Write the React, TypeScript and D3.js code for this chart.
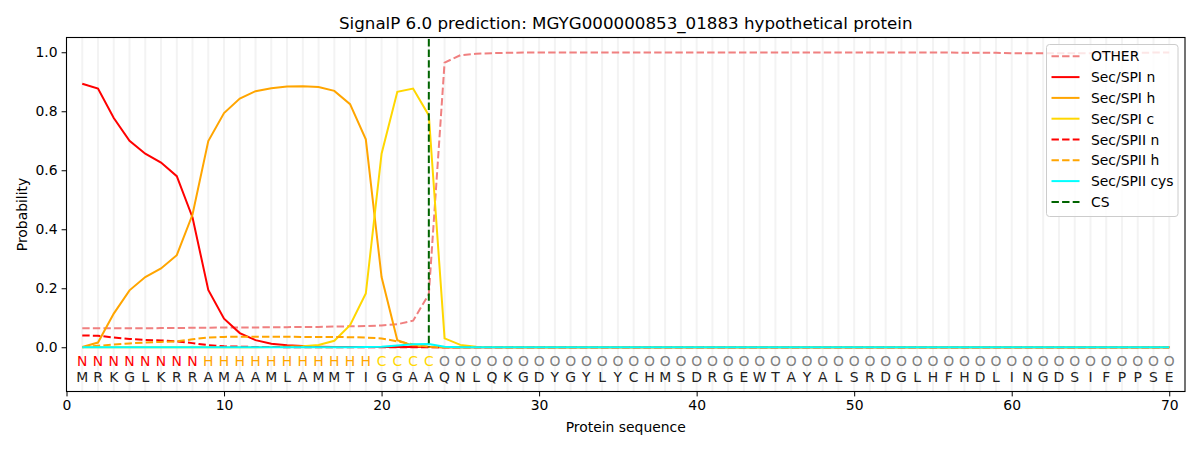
import React, { useEffect, useRef } from 'react';
import * as d3 from 'd3';

const sequence = 'MRKGLKRRAMAAMLAMMTIGGAAQNLQKGDYGYLYCHMSDRGEWTAYALSRDGLHFHDLINGDSIFPPSE'.split('');
const regionLabels = 'NNNNNNNNHHHHHHHHHHHCCCCOOOOOOOOOOOOOOOOOOOOOOOOOOOOOOOOOOOOOOOOOOOOOOO'.split('');

const other = [
  0.064, 0.064, 0.064, 0.064, 0.064, 0.065, 0.065, 0.066, 0.066, 0.067,
  0.067, 0.067, 0.068, 0.068, 0.069, 0.069, 0.070, 0.071, 0.072, 0.074,
  0.078, 0.090, 0.180, 0.965, 0.990, 0.995, 0.997, 0.998, 0.999, 0.999,
  0.999, 0.999, 0.999, 0.999, 0.999, 0.999, 0.999, 0.999, 0.999, 0.999,
  0.999, 0.999, 0.999, 0.999, 0.999, 0.999, 0.999, 0.999, 0.999, 0.999,
  0.999, 0.999, 0.999, 0.999, 0.999, 0.999, 0.998, 0.998, 0.998, 0.997,
  0.997, 0.997, 0.997, 0.997, 0.997, 0.998, 0.998, 0.998, 0.999, 0.999
];
const spiN = [
  0.893, 0.877, 0.777, 0.700, 0.656, 0.626, 0.580, 0.440, 0.194, 0.097,
  0.048, 0.024, 0.012, 0.007, 0.004, 0.002, 0.001, 0.001, 0.001, 0.001,
  0.001, 0.001, 0.001, 0, 0, 0, 0, 0, 0, 0,
  0, 0, 0, 0, 0, 0, 0, 0, 0, 0,
  0, 0, 0, 0, 0, 0, 0, 0, 0, 0,
  0, 0, 0, 0, 0, 0, 0, 0, 0, 0,
  0, 0, 0, 0, 0, 0, 0, 0, 0, 0
];
const spiH = [
  0.001, 0.016, 0.114, 0.193, 0.238, 0.267, 0.312, 0.450, 0.699, 0.794,
  0.843, 0.868, 0.878, 0.884, 0.885, 0.882, 0.869, 0.824, 0.705, 0.238,
  0.024, 0.005, 0.001, 0, 0, 0, 0, 0, 0, 0,
  0, 0, 0, 0, 0, 0, 0, 0, 0, 0,
  0, 0, 0, 0, 0, 0, 0, 0, 0, 0,
  0, 0, 0, 0, 0, 0, 0, 0, 0, 0,
  0, 0, 0, 0, 0, 0, 0, 0, 0, 0
];
const spiC = [
  0, 0, 0, 0, 0, 0, 0, 0, 0, 0,
  0, 0, 0.001, 0.002, 0.003, 0.008, 0.022, 0.075, 0.182, 0.656,
  0.866, 0.877, 0.786, 0.030, 0.008, 0.002, 0.001, 0, 0, 0,
  0, 0, 0, 0, 0, 0, 0, 0, 0, 0,
  0, 0, 0, 0, 0, 0, 0, 0, 0, 0,
  0, 0, 0, 0, 0, 0, 0, 0, 0, 0,
  0, 0, 0, 0, 0, 0, 0, 0, 0, 0
];
const spiiN = [
  0.040, 0.039, 0.033, 0.028, 0.025, 0.023, 0.020, 0.014, 0.007, 0.003,
  0.002, 0.001, 0.001, 0, 0, 0, 0, 0, 0, 0,
  0, 0, 0, 0, 0, 0, 0, 0, 0, 0,
  0, 0, 0, 0, 0, 0, 0, 0, 0, 0,
  0, 0, 0, 0, 0, 0, 0, 0, 0, 0,
  0, 0, 0, 0, 0, 0, 0, 0, 0, 0,
  0, 0, 0, 0, 0, 0, 0, 0, 0, 0
];
const spiiH = [
  0, 0.005, 0.009, 0.013, 0.016, 0.018, 0.020, 0.027, 0.033, 0.035,
  0.036, 0.036, 0.036, 0.036, 0.035, 0.035, 0.035, 0.034, 0.033, 0.030,
  0.020, 0.010, 0.002, 0, 0, 0, 0, 0, 0, 0,
  0, 0, 0, 0, 0, 0, 0, 0, 0, 0,
  0, 0, 0, 0, 0, 0, 0, 0, 0, 0,
  0, 0, 0, 0, 0, 0, 0, 0, 0, 0,
  0, 0, 0, 0, 0, 0, 0, 0, 0, 0
];
const spiiCys = [
  0, 0, 0, 0, 0, 0, 0, 0, 0, 0,
  0, 0, 0, 0, 0, 0, 0, 0, 0.001, 0.002,
  0.006, 0.010, 0.011, 0.002, 0, 0, 0, 0, 0, 0,
  0, 0, 0, 0, 0, 0, 0, 0, 0, 0,
  0, 0, 0, 0, 0, 0, 0, 0, 0, 0,
  0, 0, 0, 0, 0, 0, 0, 0, 0, 0,
  0, 0, 0, 0, 0, 0, 0, 0, 0, 0
];
const cleavageSite = 23;
const xTicks = [0, 10, 20, 30, 40, 50, 60, 70];
const yTicks = [0, 0.2, 0.4, 0.6, 0.8, 1.0];

const series = [
  { name: 'OTHER', values: other, color: '#f08080', dashed: true },
  { name: 'Sec/SPI n', values: spiN, color: '#ff0000', dashed: false },
  { name: 'Sec/SPI h', values: spiH, color: '#ffa500', dashed: false },
  { name: 'Sec/SPI c', values: spiC, color: '#ffd700', dashed: false },
  { name: 'Sec/SPII n', values: spiiN, color: '#ff0000', dashed: true },
  { name: 'Sec/SPII h', values: spiiH, color: '#ffa500', dashed: true },
  { name: 'Sec/SPII cys', values: spiiCys, color: '#00ffff', dashed: false }
];

const labelColors: Record<string, string> = {
  N: '#ff0000',
  H: '#ffa500',
  C: '#ffd700',
  O: '#808080'
};

const FONT = 'DejaVu Sans, sans-serif';

export default function App() {
  const svgRef = useRef<SVGSVGElement>(null);

  useEffect(() => {
    if (!svgRef.current) return;
    const width = 1200;
    const height = 450;
    const margin = { top: 37.5, right: 15, bottom: 58.5, left: 66.5 };
    const innerWidth = width - margin.left - margin.right;
    const innerHeight = height - margin.top - margin.bottom;

    const svg = d3.select(svgRef.current);
    svg.selectAll('*').remove();

    const x = d3.scaleLinear().domain([0, 71]).range([0, innerWidth]);
    const y = d3.scaleLinear().domain([-0.15, 1.05]).range([innerHeight, 0]);

    const g = svg.append('g').attr('transform', `translate(${margin.left},${margin.top})`);

    // residue grid
    g.selectAll('.vgrid')
      .data(sequence.map((_, i) => i + 1))
      .enter()
      .append('line')
      .attr('x1', d => x(d))
      .attr('x2', d => x(d))
      .attr('y1', 0)
      .attr('y2', innerHeight)
      .attr('stroke', '#f3f3f3')
      .attr('stroke-width', 2);

    // region labels and residues
    g.selectAll('.region')
      .data(regionLabels)
      .enter()
      .append('text')
      .attr('x', (_, i) => x(i + 1))
      .attr('y', y(-0.047))
      .attr('text-anchor', 'middle')
      .attr('dominant-baseline', 'central')
      .attr('font-family', FONT)
      .attr('font-size', 13.9)
      .attr('fill', d => labelColors[d])
      .text(d => d);

    g.selectAll('.aa')
      .data(sequence)
      .enter()
      .append('text')
      .attr('x', (_, i) => x(i + 1))
      .attr('y', y(-0.1))
      .attr('text-anchor', 'middle')
      .attr('dominant-baseline', 'central')
      .attr('font-family', FONT)
      .attr('font-size', 13.9)
      .attr('fill', '#222')
      .text(d => d);

    const line = d3.line<number>()
      .x((_, i) => x(i + 1))
      .y(d => y(d));

    series.forEach(s => {
      g.append('path')
        .datum(s.values)
        .attr('d', line)
        .attr('fill', 'none')
        .attr('stroke', s.color)
        .attr('stroke-width', 2)
        .attr('stroke-dasharray', s.dashed ? '7.4,3.2' : null);
    });

    // cleavage site
    g.append('line')
      .attr('x1', x(cleavageSite))
      .attr('x2', x(cleavageSite))
      .attr('y1', y(1.045))
      .attr('y2', y(0))
      .attr('stroke', '#006400')
      .attr('stroke-width', 2)
      .attr('stroke-dasharray', '7.4,3.2');

    // axes
    const xAxis = g.append('g')
      .attr('transform', `translate(0,${innerHeight})`)
      .call(d3.axisBottom(x).tickValues(xTicks).tickSize(4.9).tickPadding(4).tickFormat(d3.format('d')));
    const yAxis = g.append('g')
      .call(d3.axisLeft(y).tickValues(yTicks).tickSize(4.9).tickPadding(4).tickFormat(d3.format('.1f')));
    [xAxis, yAxis].forEach(a => {
      a.select('.domain').remove();
      a.selectAll('line').attr('stroke', '#000').attr('stroke-width', 1);
      a.selectAll('text').attr('font-family', FONT).attr('font-size', 13.9).attr('fill', '#000');
    });

    g.append('rect')
      .attr('width', innerWidth)
      .attr('height', innerHeight)
      .attr('fill', 'none')
      .attr('stroke', '#000')
      .attr('stroke-width', 1.1);

    // labels
    svg.append('text')
      .attr('x', margin.left + innerWidth / 2)
      .attr('y', 29)
      .attr('text-anchor', 'middle')
      .attr('font-family', FONT)
      .attr('font-size', 16.7)
      .text('SignalP 6.0 prediction: MGYG000000853_01883 hypothetical protein');

    svg.append('text')
      .attr('x', margin.left + innerWidth / 2)
      .attr('y', 432)
      .attr('text-anchor', 'middle')
      .attr('font-family', FONT)
      .attr('font-size', 13.9)
      .text('Protein sequence');

    svg.append('text')
      .attr('transform', `translate(27,${margin.top + innerHeight / 2}) rotate(-90)`)
      .attr('text-anchor', 'middle')
      .attr('font-family', FONT)
      .attr('font-size', 13.9)
      .text('Probability');

    // legend
    const legendItems = [
      ...series.map(s => ({ name: s.name, color: s.color, dashed: s.dashed })),
      { name: 'CS', color: '#006400', dashed: true }
    ];
    const legend = svg.append('g').attr('transform', 'translate(1046.5,44.5)');
    legend.append('rect')
      .attr('width', 131.5)
      .attr('height', 172)
      .attr('rx', 3)
      .attr('fill', 'rgba(255,255,255,0.8)')
      .attr('stroke', '#cccccc')
      .attr('stroke-width', 1);
    legendItems.forEach((item, i) => {
      const row = legend.append('g').attr('transform', `translate(0,${11.8 + i * 20.8})`);
      row.append('line')
        .attr('x1', 5)
        .attr('x2', 33)
        .attr('stroke', item.color)
        .attr('stroke-width', 2)
        .attr('stroke-dasharray', item.dashed ? '7.4,3.2' : null);
      row.append('text')
        .attr('x', 44.5)
        .attr('dominant-baseline', 'central')
        .attr('font-family', FONT)
        .attr('font-size', 13.9)
        .text(item.name);
    });
  }, []);

  return (
    <svg
      ref={svgRef}
      width={1200}
      height={450}
      style={{ position: 'absolute', left: 0, top: 0, background: '#fff' }}
    />
  );
}
